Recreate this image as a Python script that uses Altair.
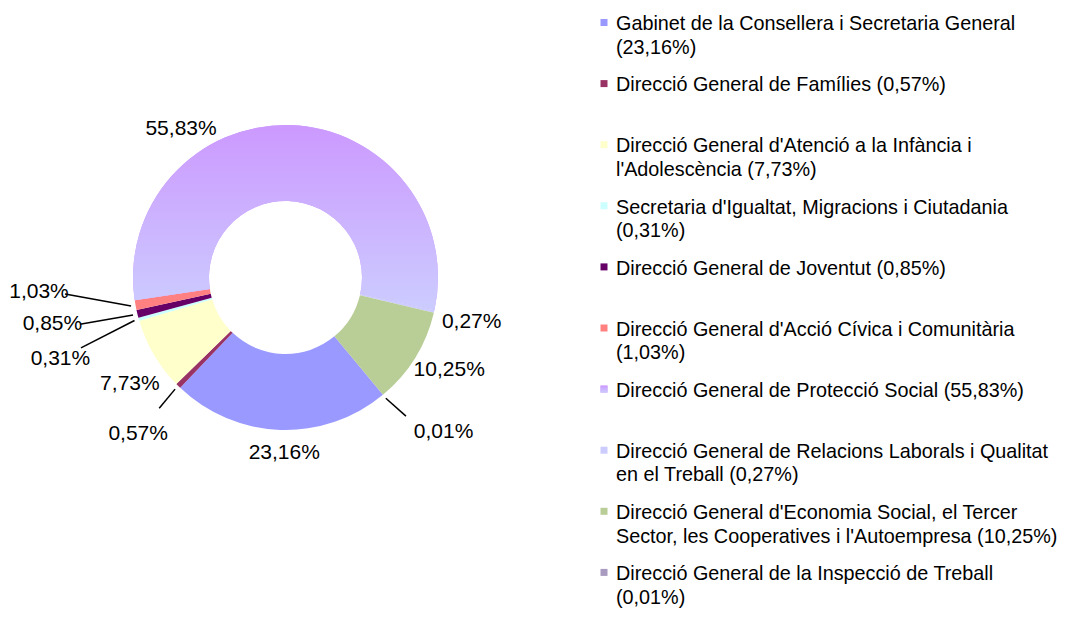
import math
import altair as alt
import pandas as pd

# ---------------- data ----------------
categories = [
    "Gabinet de la Consellera i Secretaria General",
    "Direcció General de Famílies",
    "Direcció General d'Atenció a la Infància i l'Adolescència",
    "Secretaria d'Igualtat, Migracions i Ciutadania",
    "Direcció General de Joventut",
    "Direcció General d'Acció Cívica i Comunitària",
    "Direcció General de Protecció Social",
    "Direcció General de Relacions Laborals i Qualitat en el Treball",
    "Direcció General d'Economia Social, el Tercer Sector, les Cooperatives i l'Autoempresa",
    "Direcció General de la Inspecció de Treball",
]
shares = [23.16, 0.57, 7.73, 0.31, 0.85, 1.03, 55.83, 0.27, 10.25, 0.01]
legend_labels = [
    "Gabinet de la Consellera i Secretaria General\n(23,16%)",
    "Direcció General de Famílies (0,57%)",
    "Direcció General d'Atenció a la Infància i\nl'Adolescència (7,73%)",
    "Secretaria d'Igualtat, Migracions i Ciutadania\n(0,31%)",
    "Direcció General de Joventut (0,85%)",
    "Direcció General d'Acció Cívica i Comunitària\n(1,03%)",
    "Direcció General de Protecció Social (55,83%)",
    "Direcció General de Relacions Laborals i Qualitat\nen el Treball (0,27%)",
    "Direcció General d'Economia Social, el Tercer\nSector, les Cooperatives i l'Autoempresa (10,25%)",
    "Direcció General de la Inspecció de Treball\n(0,01%)",
]
colors = ["#9999FF", "#993366", "#FFFFCC", "#CCFFFF", "#660066",
          "#FF8080", "#CC99FF", "#CCCCFF", "#B9CD96", "#A99BBF"]
pct_labels = [f"{v:.2f}%".replace(".", ",") for v in shares]

# ---------------- layout (styles / placement) ----------------
W, H = 1053, 601
CX, CY = 277.5, 269.5
R_OUT, R_IN = 152.5, 76.5
START_DEG = 140.3
FONT = "Liberation Sans"

label_angle = [180.4, 223.3, 235.6, 250.2, 258.7, 266.7, 324.8, 103.4, 119.55, 134.4]
label_radius = [175.5, 214.8, 188.6, 239.2, 237.7, 246.9, 181.2, 191.4, 188.2, 221.2]

leader_idx = [1, 3, 4, 5, 9]
leader_end_angle = [224.0, 251.0, 257.2, 265.7, 139.0]
leader_end_radius = [181.8, 216.3, 210.8, 221.1, 183.6]
LEADER_START_R = 157

LEG_Y0, LEG_STEP = 22.2, 61.1
LEG_SQ_X, LEG_TX_X = 596, 608
LEG_FONT = 19.8

total = sum(shares)
mids = []
cum = 0.0
for v in shares:
    mids.append(START_DEG + (cum + v / 2) / total * 360)
    cum += v

slices = pd.DataFrame({
    "idx": list(range(len(categories))),
    "cat": categories,
    "share": shares,
    "label": pct_labels,
    "la": label_angle,
    "lr": label_radius,
    "legend": legend_labels,
})

leaders = pd.DataFrame({
    "idx": leader_idx,
    "a1": [mids[i] for i in leader_idx],
    "r1": [LEADER_START_R] * len(leader_idx),
    "a2": leader_end_angle,
    "r2": leader_end_radius,
})

start = math.radians(START_DEG)
theta_scale = alt.Scale(domain=[0, total], range=[start, start + 2 * math.pi])
color_scale = alt.Scale(domain=categories, range=colors)

grad = alt.Gradient(
    gradient="linear",
    stops=[alt.GradientStop(color="#CC99FF", offset=0),
           alt.GradientStop(color="#CCCCFF", offset=1)],
    x1=0, x2=0, y1=0, y2=1,
)

base = alt.Chart(slices)

arcs = base.mark_arc(innerRadius=R_IN, outerRadius=R_OUT).encode(
    theta=alt.Theta("share:Q", stack=True, scale=theta_scale),
    color=alt.Color("cat:N", scale=color_scale, legend=None),
    order=alt.Order("idx:Q"),
    x=alt.value(CX), y=alt.value(CY),
)

arcs_grad = base.mark_arc(innerRadius=R_IN, outerRadius=R_OUT, fill=grad).encode(
    theta=alt.Theta("share:Q", stack=True, scale=theta_scale),
    order=alt.Order("idx:Q"),
    opacity=alt.condition(alt.datum.idx == 6, alt.value(1), alt.value(0)),
    x=alt.value(CX), y=alt.value(CY),
)

rules = alt.Chart(leaders).transform_calculate(
    px1=f"{CX} + datum.r1 * sin(datum.a1 * PI / 180)",
    py1=f"{CY} - datum.r1 * cos(datum.a1 * PI / 180)",
    px2=f"{CX} + datum.r2 * sin(datum.a2 * PI / 180)",
    py2=f"{CY} - datum.r2 * cos(datum.a2 * PI / 180)",
).mark_rule(color="black", strokeWidth=1.5).encode(
    x=alt.X("px1:Q", scale=None), y=alt.Y("py1:Q", scale=None),
    x2="px2:Q", y2="py2:Q",
)

labels = base.transform_calculate(
    tx=f"{CX} + datum.lr * sin(datum.la * PI / 180)",
    ty=f"{CY} - datum.lr * cos(datum.la * PI / 180)",
).mark_text(font=FONT, fontSize=21, align="center", baseline="middle", color="black").encode(
    x=alt.X("tx:Q", scale=None), y=alt.Y("ty:Q", scale=None), text="label:N",
)

leg_sq = base.transform_calculate(
    sy=f"{LEG_Y0} + datum.idx * {LEG_STEP} - 7.7",
).mark_square(size=49, opacity=1).encode(
    x=alt.value(LEG_SQ_X), y=alt.Y("sy:Q", scale=None),
    color=alt.Color("cat:N", scale=color_scale, legend=None),
)

leg_sq_grad = base.transform_calculate(
    sy=f"{LEG_Y0} + datum.idx * {LEG_STEP} - 7.7",
).mark_square(size=49, fill=grad).encode(
    x=alt.value(LEG_SQ_X), y=alt.Y("sy:Q", scale=None),
    opacity=alt.condition(alt.datum.idx == 6, alt.value(1), alt.value(0)),
)

leg_tx = base.transform_calculate(
    ty=f"{LEG_Y0} + datum.idx * {LEG_STEP}",
).mark_text(font=FONT, fontSize=LEG_FONT, align="left", baseline="alphabetic",
            lineBreak="\n", lineHeight=23.5, color="black").encode(
    x=alt.value(LEG_TX_X), y=alt.Y("ty:Q", scale=None), text="legend:N",
)

chart = alt.layer(arcs, arcs_grad, rules, labels, leg_sq, leg_sq_grad, leg_tx).properties(
    width=W, height=H, padding=0,
    autosize=alt.AutoSizeParams(type="fit", contains="padding"),
).configure_view(stroke=None)

chart.save("out.html", embed_options={"renderer": "svg", "actions": False})
